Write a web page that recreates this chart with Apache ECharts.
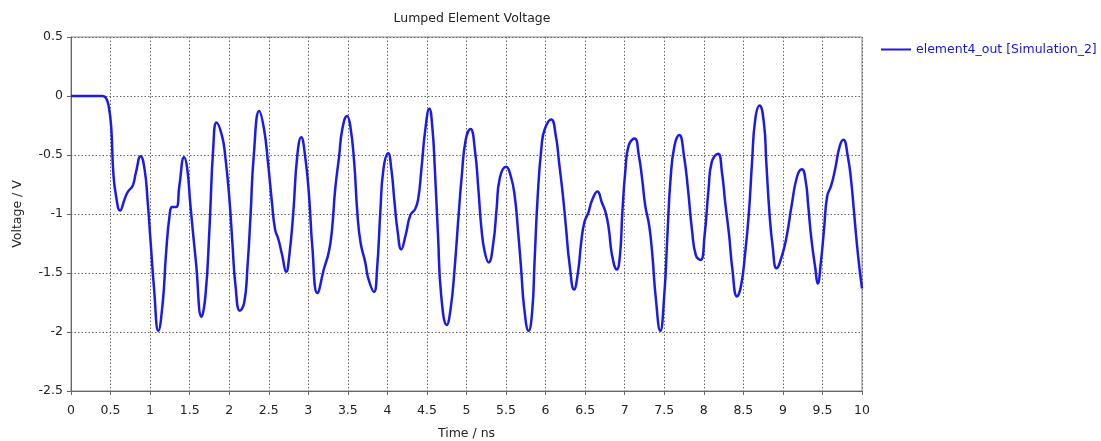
<!DOCTYPE html>
<html>
<head>
<meta charset="UTF-8">
<title>Lumped Element Voltage</title>
<script src="https://cdn.jsdelivr.net/npm/echarts@6/dist/echarts.min.js"></script>
<style>
  html, body { margin: 0; padding: 0; background: #fff; }
  #container { width: 1101px; height: 441px; }
</style>
</head>
<body>
<div id="container"></div>
<script type="text/javascript">
// time samples (ns)
var timeNs = [0, 0.40, 0.445, 0.48, 0.51, 0.535, 0.57, 0.62, 0.68, 0.72, 0.78, 0.82, 0.88, 0.93, 0.97,
  1.01, 1.05, 1.104, 1.16, 1.20, 1.25, 1.28, 1.33, 1.37, 1.43, 1.47, 1.51, 1.58, 1.65, 1.70, 1.75, 1.80, 1.84, 1.91, 1.95,
  2.00, 2.04, 2.08, 2.135, 2.19, 2.23, 2.27, 2.31, 2.38, 2.44, 2.49, 2.54, 2.58, 2.62, 2.67, 2.72, 2.76, 2.81, 2.86, 2.91, 2.96,
  3.01, 3.05, 3.115, 3.20, 3.26, 3.30, 3.34, 3.39, 3.43, 3.49, 3.53, 3.58, 3.62, 3.66, 3.72, 3.76, 3.83, 3.87, 3.91, 3.95,
  4.01, 4.05, 4.09, 4.13, 4.175, 4.23, 4.29, 4.35, 4.39, 4.43, 4.48, 4.53, 4.57, 4.60, 4.64, 4.68, 4.75, 4.80, 4.85, 4.90, 4.94, 4.99,
  5.05, 5.11, 5.15, 5.19, 5.23, 5.28, 5.34, 5.38, 5.42, 5.50, 5.56, 5.61, 5.65, 5.69, 5.73, 5.785, 5.83, 5.86, 5.90, 5.95, 5.99,
  6.07, 6.13, 6.17, 6.22, 6.26, 6.30, 6.36, 6.41, 6.45, 6.49, 6.54, 6.59, 6.655, 6.71, 6.76, 6.80, 6.84, 6.90, 6.94, 6.97,
  7.01, 7.05, 7.125, 7.18, 7.22, 7.26, 7.31, 7.35, 7.39, 7.45, 7.50, 7.54, 7.58, 7.63, 7.69, 7.75, 7.80, 7.85, 7.90, 7.96,
  8.01, 8.06, 8.10, 8.18, 8.23, 8.27, 8.32, 8.36, 8.42, 8.47, 8.52, 8.57, 8.61, 8.65, 8.705, 8.76, 8.79, 8.83, 8.87, 8.92, 8.99,
  9.05, 9.11, 9.18, 9.24, 9.29, 9.32, 9.36, 9.41, 9.44, 9.48, 9.52, 9.56, 9.61, 9.66, 9.72, 9.765, 9.82, 9.86, 9.90, 9.95, 10.0];

// element4_out [Simulation_2] voltage (V)
var voltage = [0, 0, -0.02, -0.10, -0.28, -0.65, -0.85, -0.97, -0.87, -0.81, -0.76, -0.65, -0.51, -0.62, -0.90,
  -1.27, -1.63, -1.99, -1.75, -1.35, -0.99, -0.94, -0.94, -0.76, -0.52, -0.62, -0.93, -1.41, -1.87, -1.69, -1.13, -0.42, -0.225, -0.34, -0.51,
  -0.85, -1.24, -1.61, -1.82, -1.75, -1.46, -1.01, -0.51, -0.127, -0.28, -0.56, -0.90, -1.13, -1.21, -1.35, -1.49, -1.35, -0.99, -0.51, -0.35, -0.51,
  -0.85, -1.27, -1.67, -1.46, -1.32, -1.13, -0.79, -0.51, -0.28, -0.17, -0.25, -0.56, -0.99, -1.24, -1.41, -1.55, -1.66, -1.46, -0.99, -0.62,
  -0.485, -0.62, -0.90, -1.15, -1.30, -1.18, -1.01, -0.96, -0.87, -0.62, -0.28, -0.107, -0.28, -0.62, -1.18, -1.69, -1.94, -1.80, -1.46, -1.01, -0.68, -0.37,
  -0.28, -0.48, -0.79, -1.13, -1.32, -1.41, -1.24, -0.96, -0.70, -0.60, -0.68, -0.85, -1.13, -1.46, -1.80, -1.99, -1.83, -1.41, -0.85, -0.42, -0.28,
  -0.20, -0.34, -0.56, -0.85, -1.13, -1.41, -1.64, -1.49, -1.24, -1.07, -0.99, -0.88, -0.81, -0.90, -0.99, -1.13, -1.35, -1.47, -1.35, -0.99,
  -0.62, -0.42, -0.36, -0.51, -0.70, -0.93, -1.10, -1.35, -1.69, -1.99, -1.69, -1.18, -0.70, -0.42, -0.33, -0.51, -0.79, -1.13, -1.35, -1.39,
  -1.18, -0.79, -0.56, -0.49, -0.65, -0.90, -1.18, -1.46, -1.70, -1.61, -1.35, -0.99, -0.56, -0.20, -0.08, -0.23, -0.56, -0.99, -1.27, -1.46, -1.35,
  -1.18, -0.93, -0.68, -0.62, -0.73, -0.93, -1.21, -1.46, -1.59, -1.41, -1.13, -0.85, -0.76, -0.62, -0.42, -0.37, -0.51, -0.70, -0.99, -1.35, -1.63];

var seriesName = 'element4_out [Simulation_2]';

var points = [];
for (var i = 0; i < timeNs.length; i++) {
  points.push([timeNs[i], voltage[i]]);
}

var font = 'DejaVu Sans';
var gridLine = { show: true, lineStyle: { color: '#666', type: [1.5, 2], width: 1 } };

var mychart = echarts.init(document.getElementById('container'));
var option = {
  animation: false,
  backgroundColor: '#fff',
  title: {
    text: 'Lumped Element Voltage',
    left: 467, top: 7, textAlign: 'center',
    textStyle: { fontFamily: font, fontSize: 12.5, fontWeight: 'normal', color: '#222' }
  },
  legend: {
    data: [seriesName],
    left: 876, top: 38,
    itemWidth: 30, itemHeight: 10, itemGap: 6,
    icon: 'path://M0,4L30,4L30,6L0,6Z',
    textStyle: { fontFamily: font, fontSize: 12.5, color: '#1515e0' }
  },
  grid: {
    left: 71, right: 239, top: 37, bottom: 50,
    outerBoundsMode: 'none', containLabel: false,
    show: true, borderColor: '#888', borderWidth: 1
  },
  xAxis: {
    type: 'value', min: 0, max: 10, interval: 0.5,
    name: 'Time / ns', nameLocation: 'middle', nameGap: 36,
    nameTextStyle: { fontFamily: font, fontSize: 12.5, color: '#222' },
    axisLine: { onZero: false, lineStyle: { color: '#666' } },
    axisTick: { show: true, length: 4, lineStyle: { color: '#666' } },
    axisLabel: { fontFamily: font, fontSize: 12.5, color: '#222', margin: 13 },
    splitLine: gridLine
  },
  yAxis: {
    type: 'value', min: -2.5, max: 0.5, interval: 0.5,
    name: 'Voltage / V', nameLocation: 'middle', nameGap: 47,
    nameTextStyle: { fontFamily: font, fontSize: 12.5, color: '#222' },
    axisLine: { show: true, onZero: false, lineStyle: { color: '#666' } },
    axisTick: { show: true, length: 4, lineStyle: { color: '#666' } },
    axisLabel: { fontFamily: font, fontSize: 12.5, color: '#222', margin: 8 },
    splitLine: gridLine
  },
  series: [{
    name: seriesName,
    type: 'line',
    data: points,
    smooth: 0.5,
    showSymbol: false,
    lineStyle: { color: '#1a1aeb', width: 2.5 },
    itemStyle: { color: '#1a1aeb' }
  }]
};
mychart.setOption(option);
</script>
</body>
</html>
